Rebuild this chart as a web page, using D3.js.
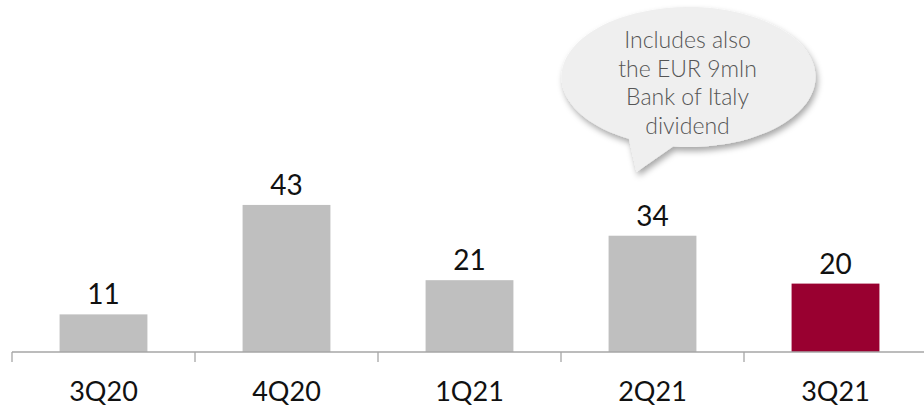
<!DOCTYPE html>
<meta charset="utf-8">
<style>
  body { margin: 0; background: #fff; }
  svg { display: block; font-family: Lato, "Open Sans", sans-serif; }
  .axis-line { stroke: #a6a6a6; stroke-width: 1.3px; fill: none; }
  .value { font-size: 28px; fill: #111; text-anchor: middle; }
  .cat { font-size: 27px; fill: #111; text-anchor: middle; }
  .note { font-size: 23px; fill: #555; font-weight: 300; text-anchor: middle; }
</style>
<svg width="924" height="409"></svg>
<script src="https://cdn.jsdelivr.net/npm/d3@7"></script>
<script>

  // chart data
  var quarters = ["3Q20", "4Q20", "1Q21", "2Q21", "3Q21"];
  var values = [11, 43, 21, 34, 20];
  var highlight = "3Q21";
  var noteLines = ["Includes also", "the EUR 9mln", "Bank of Italy", "dividend"];
  var noteQuarter = "2Q21";

  var svg = d3.select("svg");

  var x = d3.scaleBand()
    .domain(quarters)
    .range([12, 927])
    .paddingInner(0.52)
    .paddingOuter(0.26);

  var y = d3.scaleLinear()
    .domain([0, 50])
    .range([352, 181]);

  var data = quarters.map(function (q, i) { return { q: q, v: values[i] }; });

  // drop shadow for the callout
  var defs = svg.append("defs");
  defs.append("filter")
    .attr("id", "shadow")
    .attr("x", "-20%").attr("y", "-20%")
    .attr("width", "140%").attr("height", "150%")
    .append("feDropShadow")
    .attr("dx", 2).attr("dy", 4)
    .attr("stdDeviation", 3)
    .attr("flood-color", "#000")
    .attr("flood-opacity", 0.35);

  // bars
  svg.selectAll(".bar")
    .data(data)
    .enter().append("rect")
    .attr("class", "bar")
    .attr("x", function (d) { return x(d.q); })
    .attr("y", function (d) { return y(d.v); })
    .attr("width", x.bandwidth())
    .attr("height", function (d) { return y(0) - y(d.v); })
    .attr("fill", function (d) { return d.q === highlight ? "#990030" : "#bfbfbf"; });

  // value labels
  svg.selectAll(".value")
    .data(data)
    .enter().append("text")
    .attr("class", "value")
    .attr("x", function (d) { return x(d.q) + x.bandwidth() / 2; })
    .attr("y", function (d) { return y(d.v) - 10; })
    .text(function (d) { return d.v; });

  // axis: baseline with ticks between categories
  var step = x.step();
  var x0 = x.range()[0];
  svg.append("line")
    .attr("class", "axis-line")
    .attr("x1", x0).attr("x2", 924)
    .attr("y1", y(0)).attr("y2", y(0));

  svg.selectAll(".tick")
    .data(d3.range(quarters.length + 1))
    .enter().append("line")
    .attr("class", "axis-line")
    .attr("x1", function (i) { return x0 + i * step; })
    .attr("x2", function (i) { return x0 + i * step; })
    .attr("y1", y(0))
    .attr("y2", y(0) + 10);

  svg.selectAll(".cat")
    .data(quarters)
    .enter().append("text")
    .attr("class", "cat")
    .attr("x", function (d) { return x(d) + x.bandwidth() / 2; })
    .attr("y", 401)
    .text(function (d) { return d; });

  // speech bubble callout above 2Q21
  var bx = x(noteQuarter) + x.bandwidth() / 2;
  var cx = bx + 36, cy = 77, rx = 127, ry = 70;
  function onEllipse(deg) {
    var a = deg * Math.PI / 180;
    return [cx + rx * Math.cos(a), cy + ry * Math.sin(a)];
  }
  var pRight = onEllipse(97), pLeft = onEllipse(118);
  var tip = [bx - 16, 172];
  var bubble = "M" + pRight[0] + "," + pRight[1] +
    "A" + rx + "," + ry + " 0 1 0 " + pLeft[0] + "," + pLeft[1] +
    "L" + tip[0] + "," + tip[1] + "Z";

  svg.append("path")
    .attr("d", bubble)
    .attr("fill", "#efefef")
    .attr("filter", "url(#shadow)");

  svg.selectAll(".note")
    .data(noteLines)
    .enter().append("text")
    .attr("class", "note")
    .attr("x", cx - 1)
    .attr("y", function (d, i) { return 48 + i * 28.5; })
    .text(function (d) { return d; });

</script>
